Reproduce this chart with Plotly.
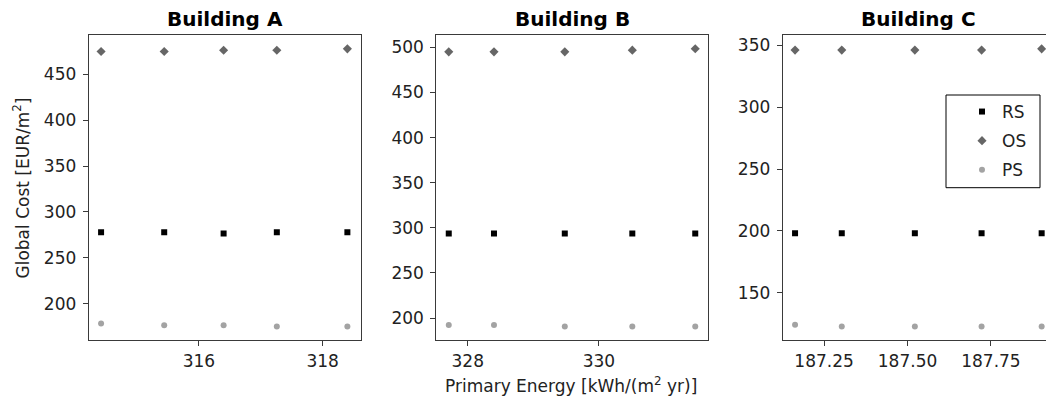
import plotly.graph_objects as go

W, H = 1046, 406

# ---- data ----
A_x = [314.42, 315.44, 316.40, 317.26, 318.40]
A_RS = [278.0, 278.0, 276.5, 278.0, 278.0]
A_OS = [474.7, 474.7, 476.0, 476.0, 477.5]
A_PS = [178.6, 176.8, 176.8, 175.3, 175.3]

B_x = [327.71, 328.40, 329.48, 330.51, 331.47]
B_RS = [293.7, 293.7, 293.7, 293.7, 293.7]
B_OS = [495.1, 495.1, 495.1, 497.0, 498.5]
B_PS = [192.2, 192.2, 190.7, 190.7, 190.7]

C_x = [187.163, 187.303, 187.522, 187.722, 187.902]
C_RS = [198.1, 198.1, 198.1, 198.1, 198.1]
C_OS = [346.3, 346.3, 346.3, 346.3, 347.3]
C_PS = [124.2, 122.8, 122.8, 122.8, 122.8]

titles = ["Building A", "Building B", "Building C"]
series_names = ["RS", "OS", "PS"]

A_xticks = [316, 318]
B_xticks = [328, 330]
C_xticks = [187.25, 187.50, 187.75]
A_yticks = [200, 250, 300, 350, 400, 450]
B_yticks = [200, 250, 300, 350, 400, 450, 500]
C_yticks = [150, 200, 250, 300, 350]

# ---- styles ----
styles = {
    "RS": dict(symbol="square", size=6, color="#000000"),
    "OS": dict(symbol="diamond", size=7, color="#666666"),
    "PS": dict(symbol="circle", size=6, color="#a3a3a3"),
}
FONT = "DejaVu Sans"
FS = 17
AXC = "#3a3a3a"
TXC = "#222222"

def px(x):
    return x / W

def py(y):
    return 1 - y / H

fig = go.Figure()

panels = [
    (A_x, {"RS": A_RS, "OS": A_OS, "PS": A_PS}),
    (B_x, {"RS": B_RS, "OS": B_OS, "PS": B_PS}),
    (C_x, {"RS": C_RS, "OS": C_OS, "PS": C_PS}),
]
for i, (xs, ser) in enumerate(panels):
    suffix = "" if i == 0 else str(i + 1)
    for name in series_names:
        st = styles[name]
        fig.add_trace(go.Scatter(
            x=xs, y=ser[name], mode="markers", name=name, legendgroup=name,
            marker=dict(symbol=st["symbol"], size=st["size"], color=st["color"], line=dict(width=0)),
            xaxis="x" + suffix, yaxis="y" + suffix,
            showlegend=(i == 2),
        ))

ydom = [py(340.3), py(35)]
xdoms = [[px(88.7), px(361)], [px(436.3), px(707.7)], [px(782.7), 1.0]]
xranges = [[314.22, 318.62], [327.52, 331.66], [187.126, 187.915]]
yranges = [[160.3, 492.6], [175.3, 513.8], [111.6, 358.5]]
xtick_sets = [A_xticks, B_xticks, C_xticks]
ytick_sets = [A_yticks, B_yticks, C_yticks]

common = dict(showgrid=False, zeroline=False, showline=True, linecolor=AXC, linewidth=1,
              ticks="outside", ticklen=5, tickwidth=1, tickcolor=AXC,
              tickfont=dict(family=FONT, size=FS, color=TXC))
layout = {}
for i in range(3):
    suffix = "" if i == 0 else str(i + 1)
    xa = dict(common, domain=xdoms[i], range=xranges[i], tickvals=xtick_sets[i],
              anchor="y" + suffix, mirror=True)
    if i == 2:
        xa["ticktext"] = [f"{v:.2f}" for v in C_xticks]
    ya = dict(common, domain=ydom, range=yranges[i], tickvals=ytick_sets[i],
              anchor="x" + suffix, mirror=(i != 2), ticklabelstandoff=3)
    layout["xaxis" + suffix] = xa
    layout["yaxis" + suffix] = ya

annotations = []
title_cx = [224.9, 572.0, 918.5]
for t, cx in zip(titles, title_cx):
    annotations.append(dict(text="<b>" + t + "</b>", x=px(cx), y=py(19), xref="paper", yref="paper",
                            showarrow=False, xanchor="center", yanchor="middle",
                            font=dict(family="DejaVu Sans", size=20, color="#000000")))
annotations.append(dict(text="Primary Energy [kWh/(m<sup>2</sup> yr)]", x=px(570.5), y=py(385),
                        xref="paper", yref="paper", showarrow=False, xanchor="center", yanchor="middle",
                        font=dict(family=FONT, size=FS, color=TXC)))
annotations.append(dict(text="Global Cost [EUR/m<sup>2</sup>]", x=px(21), y=py(188.5),
                        xref="paper", yref="paper", showarrow=False, xanchor="center", yanchor="middle",
                        textangle=-90, font=dict(family=FONT, size=FS, color=TXC)))

shapes = [dict(type="rect", xref="paper", yref="paper", x0=px(946), x1=px(1040), y0=py(187.7), y1=py(95),
               line=dict(color="#000000", width=1), fillcolor="white", layer="below")]

fig.update_layout(
    width=W, height=H, margin=dict(l=0, r=0, t=0, b=0),
    paper_bgcolor="white", plot_bgcolor="rgba(0,0,0,0)",
    font=dict(family=FONT, size=FS, color=TXC),
    annotations=annotations, shapes=shapes,
    legend=dict(x=px(962), y=py(94), xanchor="left", yanchor="top", bgcolor="rgba(0,0,0,0)",
                borderwidth=0, tracegroupgap=4, traceorder="grouped",
                font=dict(family=FONT, size=FS, color=TXC)),
    **layout,
)

fig.write_html("out.html")
